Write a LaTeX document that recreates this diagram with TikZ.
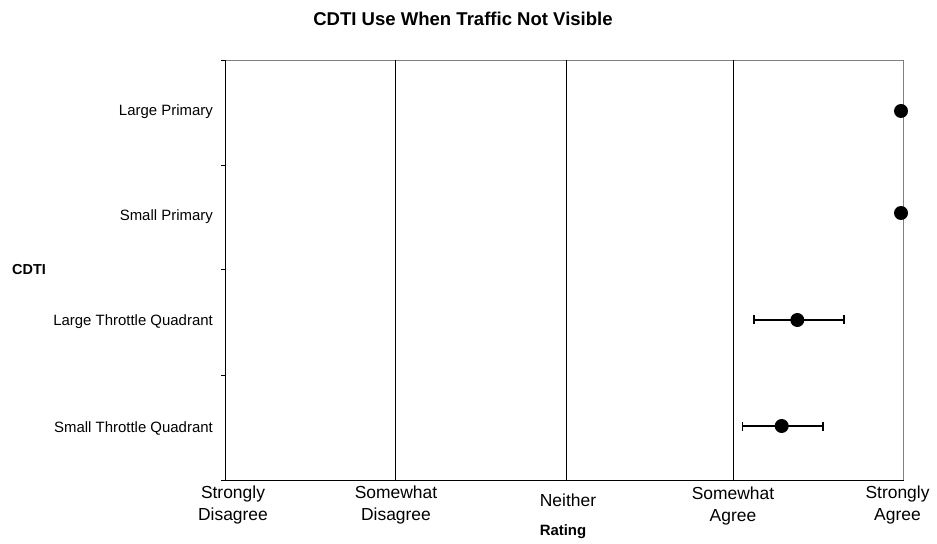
\documentclass[tikz,border=0pt]{standalone}
\usepackage{fontspec}
\setmainfont{Liberation Sans}
\usetikzlibrary{arrows.meta}
\definecolor{frame}{gray}{0.5}
\begin{document}
\begin{tikzpicture}[x=1bp,y=-1bp,
  axis/.style={draw=black, line width=1bp},
  grid/.style={draw=black, line width=0.9bp},
  border/.style={draw=frame, line width=1.2bp},
  cat/.style={font=\fontsize{15}{17}\selectfont, inner sep=0pt, anchor=east},
  tick/.style={font=\fontsize{17.5}{22}\selectfont, inner sep=0pt, align=center},
  heading/.style={font=\bfseries\fontsize{14.5}{17}\selectfont, inner sep=0pt},
  mean/.style={circle, fill=black, minimum size=14bp, inner sep=0pt},
  errbar/.style={draw=black, line width=1.3bp, {Bar[width=9bp,line width=1.3bp]}-{Bar[width=9bp,line width=1.3bp]}}
]
\useasboundingbox (0,0) rectangle (937,544);

% plot frame
\draw[border] (221,60.5) -- (903.5,60.5) -- (903.5,480);
\draw[grid] (395.5,60.5) -- (395.5,480);
\draw[grid] (566,60.5) -- (566,480);
\draw[grid] (733.5,60.5) -- (733.5,480);
\draw[axis] (225.5,60.5) -- (225.5,480);
\draw[axis] (221,480) -- (903.5,480);
\foreach \ty in {60.5,166,270,375}
  \draw[axis] (221,\ty) -- (225.5,\ty);

% title and axis titles
\node[heading, font=\bfseries\fontsize{18.6}{21}\selectfont] (title) at (463,19) {CDTI Use When Traffic Not Visible};
\node[heading, anchor=west] (ytitle) at (12,270) {CDTI};
\node[heading, font=\bfseries\fontsize{15}{17}\selectfont] (xtitle) at (563,532) {Rating};

% category labels
\node[cat] (c1) at (213,112) {Large Primary};
\node[cat] (c2) at (213,217) {Small Primary};
\node[cat] (c3) at (213,322) {Large Throttle Quadrant};
\node[cat] (c4) at (213,428) {Small Throttle Quadrant};

% rating scale labels
\node[tick] (r1) at (233,505) {Strongly\\Disagree};
\node[tick] (r2) at (396,505) {Somewhat\\Disagree};
\node[tick] (r3) at (568,500) {Neither};
\node[tick] (r4) at (733,506) {Somewhat\\Agree};
\node[tick] (r5) at (897.5,505) {Strongly\\Agree};

% error bars
\coordinate (e3a) at (753.3,320);
\coordinate (e3b) at (844.7,320);
\coordinate (e4a) at (742,426);
\coordinate (e4b) at (823.7,426);
\draw[errbar] (e3a) -- (e3b);
\draw[errbar] (e4a) -- (e4b);

% means
\node[mean] (m1) at (901,111) {};
\node[mean] (m2) at (901,213) {};
\node[mean] (m3) at (797.3,320) {};
\node[mean] (m4) at (781.7,426) {};
\end{tikzpicture}
\end{document}
